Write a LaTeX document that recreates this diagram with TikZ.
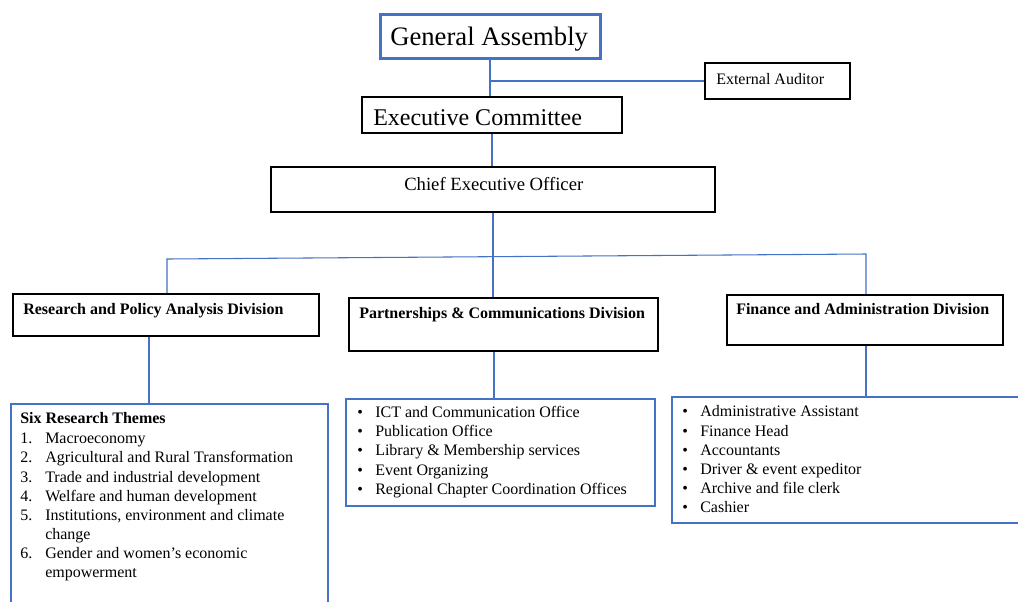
\documentclass[tikz,border=0pt]{standalone}
\usepackage{fontspec}
\setmainfont{Liberation Serif}
\usetikzlibrary{fit}
\definecolor{wordblue}{RGB}{68,114,196}
\tikzset{
  x=0.75pt, y=-0.75pt,
  blackbox/.style={draw=black, line width=1.5pt, inner sep=0pt, fill=white},
  gabox/.style={draw=wordblue, line width=2.25pt, inner sep=0pt, fill=white},
  listbox/.style={draw=wordblue, line width=1.2pt, inner sep=0pt, fill=white},
  thinline/.style={draw=wordblue, line width=0.8pt},
  thickline/.style={draw=wordblue, line width=2.2pt},
  txt/.style={anchor=base west, inner sep=0pt, font=\fontsize{12pt}{14pt}\selectfont},
  btxt/.style={txt, font=\fontsize{12pt}{14pt}\selectfont\bfseries},
}
\begin{document}
\begin{tikzpicture}
\clip (0,0) rectangle (1018,601);
\fill[white] (0,0) rectangle (1018,601);

% connector helper coordinates
\coordinate (busL) at (167,259);
\coordinate (busR) at (866,254);
\coordinate (c1) at (149,0);
\coordinate (c2) at (494,0);
\coordinate (c3) at (866,0);

% boxes
\node[gabox, fit={(380,14)(600,58)}] (ga) {};
\node[blackbox, fit={(705,63)(850,99)}] (ea) {};
\node[blackbox, fit={(362,97)(622,133)}] (ec) {};
\node[blackbox, fit={(271,167)(715,212)}] (ceo) {};
\node[blackbox, fit={(13,294)(319,336)}] (rpa) {};
\node[blackbox, fit={(349,298)(658,351)}] (pcd) {};
\node[blackbox, fit={(727,295)(1003,345)}] (fad) {};
\node[listbox, fit={(11,404)(328,640)}] (themes) {};
\node[listbox, fit={(346,399)(655,506)}] (pcdlist) {};
\node[listbox, fit={(672,397)(1040,523)}] (fadlist) {};

% connectors
\draw[thinline] (ga.south) -- (ga.south |- ec.north);
\draw[thinline] (ea.west -| ga.south) -- (ea.west);
\draw[thickline] (ec.south) -- (ec.south |- ceo.north);
\draw[thickline] (ceo.south) -- (ceo.south |- pcd.north);
\draw[thinline] (rpa.north -| busL) -- (busL) -- (busR) -- (busR |- fad.north);
\draw[thinline] (rpa.south -| c1) -- (themes.north -| c1);
\draw[thinline] (pcd.south -| c2) -- (pcdlist.north -| c2);
\draw[thinline] (fad.south -| c3) -- (fadlist.north -| c3);

% texts
\node[txt, font=\fontsize{20pt}{24pt}\selectfont] (tga) at (390,45) {General Assembly};
\node[txt] (tea) at (716,84) {External Auditor};
\node[txt, font=\fontsize{18pt}{22pt}\selectfont] (tec) at (373,125) {Executive Committee};
\node[txt, font=\fontsize{14pt}{17pt}\selectfont] (tceo) at (404,190) {Chief Executive Officer};
\node[btxt] (trpa) at (23,314) {Research and Policy Analysis Division};
\node[btxt] (tpcd) at (359,318) {Partnerships \& Communications Division};
\node[btxt] (tfad) at (736,314) {Finance and Administration Division};

% six research themes
\node[btxt] (th0) at (20,423) {Six Research Themes};
\foreach \n/\y/\t in {1/443/Macroeconomy, 2/462/Agricultural and Rural Transformation, 3/482/Trade and industrial development, 4/501/Welfare and human development, 5/520/{Institutions, environment and climate}, 6/558/Gender and women’s economic}{
  \node[txt] (thn\n) at (20,\y) {\n.};
  \node[txt] (th\n) at (45,\y) {\t};
}
\node[txt] (th5b) at (45,539) {change};
\node[txt] (th6b) at (45,577) {empowerment};

% partnerships list
\foreach \i/\y/\t in {1/417/ICT and Communication Office, 2/436/Publication Office, 3/455/Library \& Membership services, 4/475/Event Organizing, 5/494/Regional Chapter Coordination Offices}{
  \node[txt] (pb\i) at (357,\y) {\textbullet};
  \node[txt] (pt\i) at (375,\y) {\t};
}

% finance list
\foreach \i/\y/\t in {1/416/Administrative Assistant, 2/436/Finance Head, 3/455/Accountants, 4/474/Driver \& event expeditor, 5/493/Archive and file clerk, 6/512/Cashier}{
  \node[txt] (fb\i) at (682,\y) {\textbullet};
  \node[txt] (ft\i) at (700,\y) {\t};
}
\end{tikzpicture}
\end{document}
